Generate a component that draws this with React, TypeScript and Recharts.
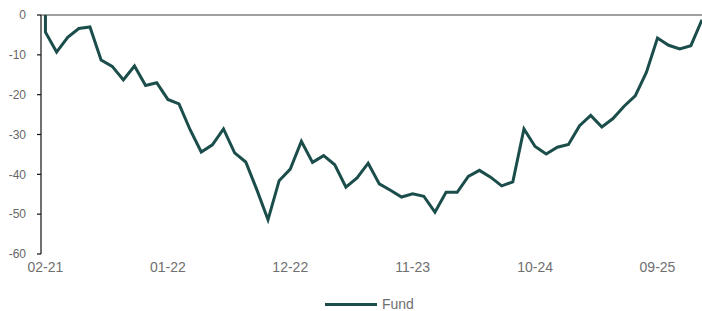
import { LineChart, Line, XAxis, YAxis, ReferenceLine } from 'recharts'

// month labels shown on the x axis (every 11th month from 02-21)
const tickLabels = ['02-21', '01-22', '12-22', '11-23', '10-24', '09-25']
const tickIndex = [0, 11, 22, 33, 44, 55]
const yTicks = [0, -10, -20, -30, -40, -50, -60]

// series starts at 0, then monthly values from 02-21 to 01-26
const startValue = 0
const fund = [
  -4.3, -9.3, -5.6, -3.4, -3.0, -11.3, -12.9, -16.3, -12.8, -17.7,
  -17.0, -21.2, -22.3, -28.8, -34.4, -32.6, -28.6, -34.6, -36.9, -43.9,
  -51.4, -41.6, -38.7, -31.7, -37.0, -35.3, -37.6, -43.2, -40.9, -37.2,
  -42.4, -44.0, -45.7, -44.9, -45.5, -49.5, -44.5, -44.5, -40.5, -39.0,
  -40.7, -42.9, -41.9, -28.6, -33.0, -34.9, -33.2, -32.5, -27.8, -25.2,
  -28.1, -26.0, -22.9, -20.3, -14.4, -5.8, -7.6, -8.5, -7.7, -1.2,
]

const data = [{ t: 0, v: startValue }, ...fund.map((v, i) => ({ t: i, v }))]

const LINE = '#1b4e4b'
const FONT = '"Liberation Sans", Arial, sans-serif'

export default function App() {
  return (
    <div style={{ position: 'absolute', left: 0, top: 0, width: 702, height: 311, background: '#fff' }}>
      <LineChart width={702} height={311} data={data} margin={{ top: 15, right: 0, bottom: 27, left: 0 }}>
        <XAxis
          type="number"
          dataKey="t"
          domain={[-0.4, 59]}
          allowDataOverflow
          ticks={tickIndex}
          tickFormatter={(t: number) => tickLabels[tickIndex.indexOf(t)] ?? ''}
          axisLine={false}
          tickLine={false}
          tickSize={6}
          tickMargin={2}
          height={30}
          tick={{ fill: '#6f6f6f', fontSize: 14, fontFamily: FONT }}
        />
        <YAxis
          domain={[-60, 0]}
          ticks={yTicks}
          width={41}
          axisLine={{ stroke: '#111', strokeWidth: 1.2 }}
          tickLine={{ stroke: '#111', strokeWidth: 1.2 }}
          tickSize={4}
          tickMargin={11}
          tick={{ fill: '#666', fontSize: 12, fontFamily: FONT }}
        />
        <ReferenceLine y={0} stroke="#808080" strokeWidth={1.5} />
        <Line
          type="linear"
          dataKey="v"
          stroke={LINE}
          strokeWidth={3}
          dot={false}
          isAnimationActive={false}
        />
      </LineChart>
      <div
        style={{
          position: 'absolute',
          top: 296,
          left: 325,
          display: 'flex',
          alignItems: 'center',
          fontFamily: FONT,
          fontSize: 14,
          color: '#6f6f6f',
        }}
      >
        <span style={{ display: 'inline-block', width: 52, height: 3, background: LINE, marginRight: 5 }} />
        <span>Fund</span>
      </div>
    </div>
  )
}
